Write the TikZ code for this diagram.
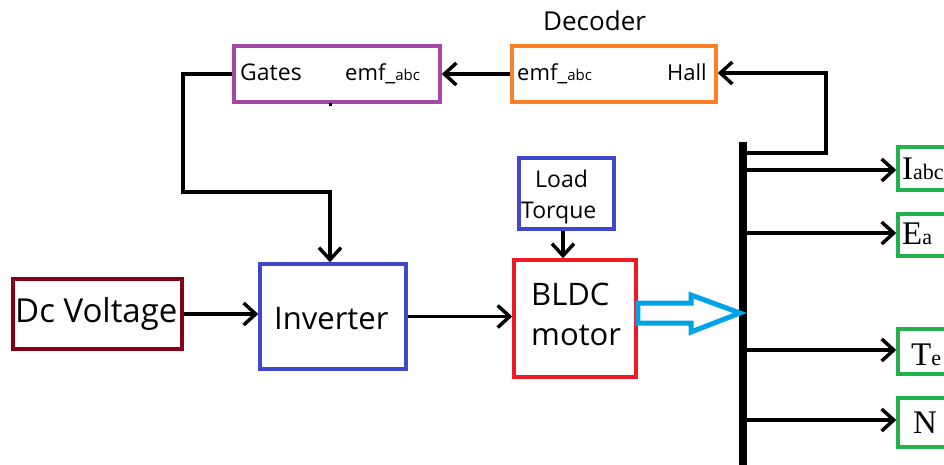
\documentclass[tikz,border=0pt]{standalone}
\usepackage{fontspec}
\setmainfont{Open Sans}
\newfontfamily\serifface{Liberation Serif}
\usetikzlibrary{arrows.meta}
\definecolor{pgreen}{RGB}{34,177,76}
\definecolor{pred}{RGB}{237,28,36}
\definecolor{porange}{RGB}{255,127,39}
\definecolor{ppurple}{RGB}{163,73,164}
\definecolor{pdarkred}{RGB}{136,0,21}
\definecolor{pindigo}{RGB}{63,72,204}
\definecolor{pcyan}{RGB}{0,162,232}
\tikzset{
  blk/.style={draw=#1, line width=3.5pt, rectangle, inner sep=0pt},
  conn/.style={line width=3.5pt, -{Straight Barb[length=12pt,width=22pt]}},
  wire/.style={line width=3.5pt},
  txt/.style={inner sep=0pt, anchor=base west},
}
\newcommand{\fs}[1]{\fontsize{#1}{#1}\selectfont}
\begin{document}
\begin{tikzpicture}[x=1pt,y=-1pt]
\useasboundingbox (0,0) rectangle (944,464);
\clip (0,0) rectangle (944,464);
% blocks
\node[blk=ppurple, minimum width=206pt, minimum height=56pt] (gates) at (337,74) {};
\node[blk=porange, minimum width=204pt, minimum height=56pt] (dec) at (614,74) {};
\node[blk=pindigo, minimum width=95pt, minimum height=71pt] (load) at (566.5,193.5) {};
\node[blk=pred, minimum width=122pt, minimum height=117pt] (motor) at (575,318.5) {};
\node[blk=pindigo, minimum width=146pt, minimum height=105pt] (inv) at (333,316.5) {};
\node[blk=pdarkred, minimum width=169pt, minimum height=70pt] (dc) at (97.5,314) {};
\node[blk=pgreen, minimum width=96pt, minimum height=43pt] (g1) at (946,168.5) {};
\node[blk=pgreen, minimum width=96pt, minimum height=42pt] (g2) at (946,235) {};
\node[blk=pgreen, minimum width=96pt, minimum height=45pt] (g3) at (946,351.5) {};
\node[blk=pgreen, minimum width=96pt, minimum height=49pt] (g4) at (946,422.5) {};
% texts
\node[txt] (tdecoder) at (543,30) {\fs{26}Decoder};
\node[txt] (tgates) at (240,80) {\fs{23}Gates};
\node[txt] (temf1) at (345,80) {\fs{22}emf\_\fs{15}abc};
\node[txt] (temf2) at (517,80) {\fs{22}emf\_\fs{15}abc};
\node[txt] (thall) at (667,80) {\fs{22}Hall};
\node[txt] (tload) at (535,187) {\fs{23}Load};
\node[txt] (ttorque) at (521,218) {\fs{23}Torque};
\node[txt] (tbldc) at (531,305) {\fs{31}BLDC};
\node[txt] (tmotor) at (531,345) {\fs{31}motor};
\node[txt] (tinv) at (274,329) {\fs{31}Inverter};
\node[txt] (tdc) at (15,322) {\fs{33}Dc Voltage};
\node[txt] (ti) at (902,179) {\serifface\fs{33}I\fs{22}abc};
\node[txt] (te) at (902,244) {\serifface\fs{33}E\fs{22}a};
\node[txt] (tt) at (911,365) {\serifface\fs{33}T\fs{22}e};
\node[txt] (tn) at (913,433) {\serifface\fs{33}N};
% stray dot
\fill (329,103) rectangle (332,106);
% bus
\coordinate (bustop) at (743,142);
\coordinate (busbot) at (743,470);
\draw[line width=8pt] (bustop) -- (busbot);
\coordinate (b0) at (743,153);
\coordinate (b1) at (743,170);
\coordinate (b2) at (743,233);
\coordinate (b3) at (743,350);
\coordinate (b4) at (743,420);
% connectors
\draw[conn] (dc.east) -- (dc.east -| inv.west);
\draw[conn] (inv.east) -- (inv.east -| motor.west);
\draw[conn] (load.south -| 563,0) -- (563,0 |- motor.north);
\draw[conn] (dec.west) -- (gates.east);
\draw[conn] (gates.west) -- (183,74) -- (183,192) -- (330,192) -- (330,0 |- inv.north);
\draw[conn] (b0) -- (826,153) -- (826,73) -- (dec.east |- 0,73);
\draw[conn] (b1) -- (b1 -| g1.west);
\draw[conn] (b2) -- (b2 -| g2.west);
\draw[conn] (b3) -- (b3 -| g3.west);
\draw[conn] (b4) -- (b4 -| g4.west);
% hollow arrow
\draw[pcyan, line width=5pt, line join=miter] (motor.east |- 0,303) -- (691,303) -- (691,295) -- (740,313) -- (691,332) -- (691,323) -- (motor.east |- 0,323) -- cycle;
\end{tikzpicture}
\end{document}
